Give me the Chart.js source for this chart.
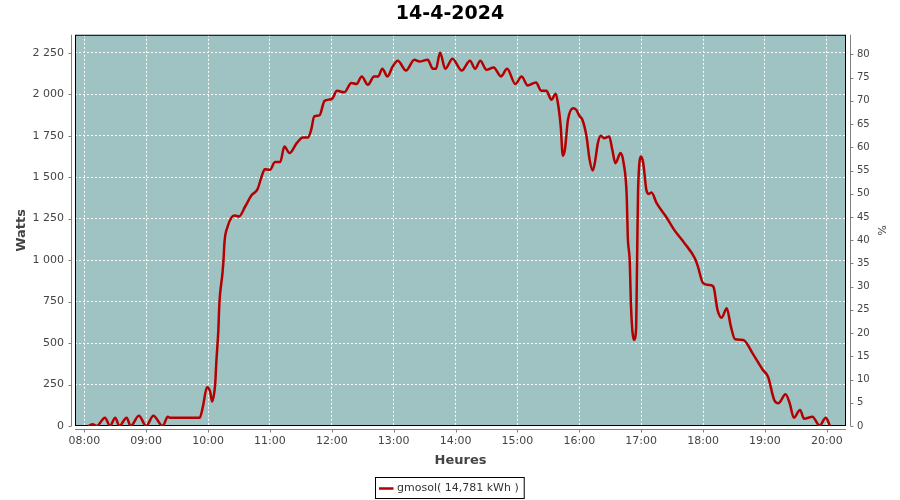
<!DOCTYPE html>
<html>
<head>
<meta charset="utf-8">
<script src="https://cdn.jsdelivr.net/npm/chart.js@4.4.1/dist/chart.umd.min.js"></script>
<style>
html, body { margin: 0; padding: 0; background: #fff; }
</style>
</head>
<body>
<canvas id="solarChart" width="900" height="500"></canvas>
<script>
const chartTitle = '14-4-2024';
const seriesLabel = 'gmosol( 14,781 kWh )';

// sample times (HH:MM) and power in watts
const times = [
    '08:04', '08:08', '08:12', '08:20', '08:25', '08:30', '08:34', '08:41', '08:45', '08:53',
    '09:00', '09:07', '09:16', '09:21', '09:23', '09:52', '09:55', '09:59', '10:02', '10:04',
    '10:06', '10:07', '10:08', '10:10', '10:11', '10:14', '10:15', '10:16', '10:19', '10:23',
    '10:26', '10:30', '10:36', '10:42', '10:48', '10:52', '10:55', '11:00', '11:05', '11:10',
    '11:14', '11:19', '11:26', '11:32', '11:37', '11:40', '11:43', '11:48', '11:53', '12:00',
    '12:05', '12:12', '12:19', '12:24', '12:29', '12:35', '12:41', '12:45', '12:49', '12:54',
    '12:59', '13:04', '13:12', '13:20', '13:25', '13:33', '13:38', '13:41', '13:45', '13:50',
    '13:57', '14:06', '14:14', '14:19', '14:24', '14:30', '14:37', '14:44', '14:50', '14:58',
    '15:04', '15:10', '15:18', '15:23', '15:28', '15:33', '15:37', '15:39', '15:42', '15:44',
    '15:46', '15:49', '15:54', '15:57', '16:00', '16:03', '16:07', '16:10', '16:13', '16:15',
    '16:18', '16:21', '16:24', '16:29', '16:32', '16:35', '16:40', '16:43', '16:46', '16:47',
    '16:49', '16:50', '16:53', '16:55', '16:56', '16:57', '17:00', '17:02', '17:05', '17:07',
    '17:10', '17:15', '17:24', '17:32', '17:42', '17:52', '17:55', '18:00', '18:06', '18:10',
    '18:14', '18:18', '18:23', '18:27', '18:31', '18:39', '18:48', '18:58', '19:03', '19:09',
    '19:13', '19:20', '19:24', '19:28', '19:34', '19:38', '19:46', '19:53', '19:59', '20:03'
];
const watts = [
    0, 10, 0, 50, 0, 50, 0, 50, 0, 62,
    0, 62, 0, 56, 50, 50, 116, 233, 207, 147,
    200, 259, 380, 579, 740, 921, 1001, 1112, 1202, 1259,
    1269, 1263, 1323, 1389, 1428, 1504, 1548, 1544, 1591, 1591,
    1685, 1645, 1705, 1739, 1739, 1785, 1866, 1872, 1960, 1971,
    2021, 2011, 2067, 2061, 2107, 2057, 2107, 2107, 2153, 2107,
    2167, 2202, 2143, 2208, 2197, 2208, 2153, 2153, 2250, 2153,
    2214, 2143, 2202, 2153, 2202, 2147, 2161, 2107, 2153, 2061,
    2107, 2053, 2071, 2021, 2021, 1966, 2003, 1956, 1805, 1629,
    1665, 1846, 1916, 1906, 1870, 1846, 1745, 1604, 1540, 1584,
    1705, 1749, 1735, 1745, 1665, 1584, 1645, 1584, 1383, 1142,
    981, 740, 519, 579, 981, 1424, 1624, 1584, 1424, 1399,
    1407, 1343, 1263, 1182, 1102, 1011, 961, 861, 850, 840,
    700, 653, 710, 599, 523, 519, 438, 338, 297, 157,
    137, 191, 137, 50, 97, 44, 56, 2, 50, 2
];

const hourTicks = ['08:00', '09:00', '10:00', '11:00', '12:00', '13:00', '14:00',
    '15:00', '16:00', '17:00', '18:00', '19:00', '20:00'];
const wattTicks = [0, 250, 500, 750, 1000, 1250, 1500, 1750, 2000, 2250];
const pctTicks = [0, 5, 10, 15, 20, 25, 30, 35, 40, 45, 50, 55, 60, 65, 70, 75, 80];

const wattMax = 2358;
const wattsPerPct = 28;   // right axis is the same scale, in % of 2800 W
const timeMin = '07:51';
const timeMax = '20:18.6';

function toMin(hhmm) {
    const p = hhmm.split(':');
    return parseInt(p[0], 10) * 60 + parseFloat(p[1]);
}
function groupThousands(v) {
    return String(v).replace(/\B(?=(\d{3})+(?!\d))/g, ' ');
}

const points = times.map((t, i) => ({ x: toMin(t), y: watts[i] }));

const lineColor = '#b40000';
const plotBg = '#9fc3c2';
const axisGray = '#808080';
const labelGray = '#444444';

// plot background, frame, offset axis lines and the boxed legend
const plotFrame = {
    id: 'plotFrame',
    beforeDraw(chart) {
        const { ctx, chartArea: a } = chart;
        ctx.save();
        ctx.fillStyle = plotBg;
        ctx.fillRect(a.left, a.top, a.right - a.left, a.bottom - a.top);
        ctx.restore();
    },
    beforeDatasetsDraw(chart) {
        const { ctx, chartArea: a, scales } = chart;
        ctx.save();
        ctx.strokeStyle = '#000';
        ctx.lineWidth = 1;
        ctx.strokeRect(a.left + 0.5, a.top + 0.5, a.right - a.left - 1, a.bottom - a.top - 1);

        ctx.strokeStyle = axisGray;
        ctx.beginPath();
        const lx = a.left - 3.5;
        ctx.moveTo(lx, a.top);
        ctx.lineTo(lx, a.bottom);
        scales.y.ticks.forEach(t => {
            const p = Math.round(scales.y.getPixelForValue(t.value)) + 0.5;
            ctx.moveTo(lx - 3, p);
            ctx.lineTo(lx, p);
        });
        const rx = a.right + 4.5;
        ctx.moveTo(rx, a.top);
        ctx.lineTo(rx, a.bottom);
        scales.y1.ticks.forEach(t => {
            const p = Math.round(scales.y1.getPixelForValue(t.value)) + 0.5;
            ctx.moveTo(rx, p);
            ctx.lineTo(rx + 3, p);
        });
        const by = a.bottom + 3.5;
        ctx.moveTo(a.left, by);
        ctx.lineTo(a.right, by);
        scales.x.ticks.forEach(t => {
            const p = Math.round(scales.x.getPixelForValue(t.value)) + 0.5;
            ctx.moveTo(p, by);
            ctx.lineTo(p, by + 3);
        });
        ctx.stroke();
        ctx.restore();
    },
    afterDraw(chart) {
        const { ctx } = chart;
        const ds = chart.data.datasets[0];
        ctx.save();
        ctx.font = '11px "DejaVu Sans"';
        const tw = ctx.measureText(ds.label).width;
        const bx = 375.5, by = 477.5, bh = 21;
        const bw = 22 + tw + 5;
        ctx.fillStyle = '#fff';
        ctx.fillRect(bx, by, bw, bh);
        ctx.strokeStyle = '#000';
        ctx.lineWidth = 1;
        ctx.strokeRect(bx, by, bw, bh);
        ctx.strokeStyle = ds.borderColor;
        ctx.lineWidth = 2.5;
        ctx.beginPath();
        ctx.moveTo(bx + 3.5, by + 11);
        ctx.lineTo(bx + 18, by + 11);
        ctx.stroke();
        ctx.fillStyle = '#333';
        ctx.textBaseline = 'middle';
        ctx.fillText(ds.label, bx + 21.5, by + 11);
        ctx.restore();
    }
};

Chart.defaults.font.family = '"DejaVu Sans", sans-serif';
Chart.defaults.color = labelGray;

const ctx = document.getElementById('solarChart').getContext('2d');
const chart = new Chart(ctx, {
    type: 'line',
    data: {
        datasets: [{
            label: seriesLabel,
            data: points,
            borderColor: lineColor,
            borderWidth: 2.5,
            pointRadius: 0,
            fill: false,
            cubicInterpolationMode: 'monotone',
            yAxisID: 'y'
        }]
    },
    options: {
        responsive: false,
        animation: false,
        layout: { padding: 0 },
        plugins: {
            legend: { display: false },
            tooltip: { enabled: false },
            title: {
                display: true,
                text: chartTitle,
                color: '#000',
                font: { size: 19, weight: 'bold' },
                padding: { top: 3, bottom: 9 }
            }
        },
        scales: {
            x: {
                type: 'linear',
                min: toMin(timeMin),
                max: toMin(timeMax),
                afterFit: s => { s.height = 74; },
                afterBuildTicks: s => { s.ticks = hourTicks.map(h => ({ value: toMin(h) })); },
                ticks: {
                    font: { size: 11 },
                    color: labelGray,
                    padding: 9,
                    maxRotation: 0,
                    callback: (v, i) => hourTicks[i]
                },
                grid: { color: '#fff', lineWidth: 1, drawTicks: false },
                border: { display: false, dash: [2, 2] },
                title: {
                    display: true,
                    text: 'Heures',
                    color: labelGray,
                    font: { size: 13, weight: 'bold' },
                    padding: { top: 0, bottom: 32 }
                }
            },
            y: {
                position: 'left',
                min: 0,
                max: wattMax,
                afterFit: s => { s.width = 75; },
                afterBuildTicks: s => { s.ticks = wattTicks.map(v => ({ value: v })); },
                ticks: {
                    font: { size: 11 },
                    color: labelGray,
                    padding: 11,
                    callback: v => groupThousands(v)
                },
                grid: { color: '#fff', lineWidth: 1, drawTicks: false },
                border: { display: false, dash: [2, 2] },
                title: {
                    display: true,
                    text: 'Watts',
                    color: labelGray,
                    font: { size: 13, weight: 'bold' },
                    padding: { top: 14, bottom: 0 }
                }
            },
            y1: {
                position: 'right',
                min: 0,
                max: wattMax / wattsPerPct,
                afterFit: s => { s.width = 54; },
                afterBuildTicks: s => { s.ticks = pctTicks.map(v => ({ value: v })); },
                ticks: {
                    font: { size: 10 },
                    color: labelGray,
                    padding: 11
                },
                grid: { display: false, drawTicks: false },
                border: { display: false },
                title: {
                    display: true,
                    text: '%',
                    color: labelGray,
                    font: { size: 11 },
                    padding: { top: 13, bottom: 0 }
                }
            }
        }
    },
    plugins: [plotFrame]
});
</script>
</body>
</html>
